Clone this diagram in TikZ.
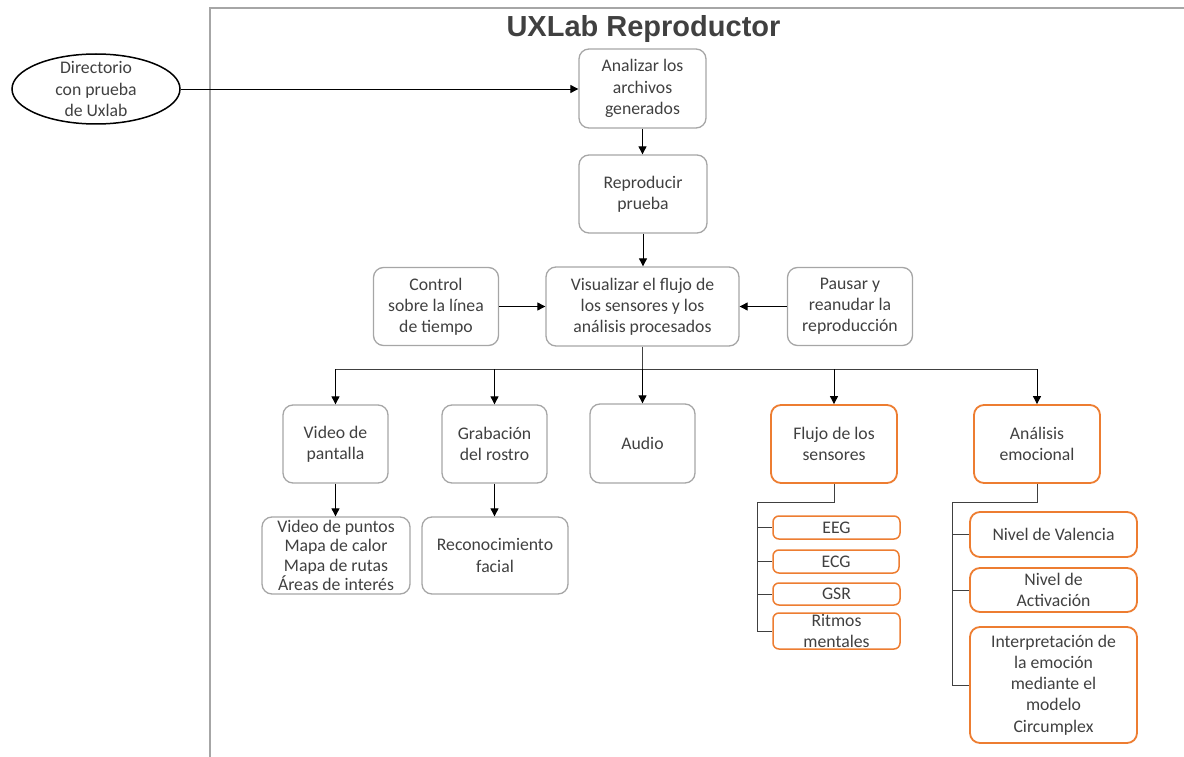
\documentclass[tikz,border=0pt]{standalone}
\usepackage{fontspec}
\setmainfont{Carlito}
\newfontfamily\titlefont{Liberation Sans}
\usetikzlibrary{arrows.meta,shapes.geometric}
\definecolor{boxgray}{HTML}{A6A6A6}
\definecolor{txt}{HTML}{404040}
\definecolor{accent}{HTML}{ED7D31}
\begin{document}
\begin{tikzpicture}[x=1pt,y=-1pt,
  base/.style={inner sep=0pt, align=center, text=txt, font=\fontsize{17.7}{21.2}\selectfont},
  graybox/.style={base, draw=boxgray, line width=1.3pt, rounded corners=10pt},
  orangebox/.style={base, draw=accent, line width=1.8pt, rounded corners=10pt},
  leafbox/.style={base, draw=accent, line width=1.5pt, rounded corners=6pt},
  arr/.style={draw=black, line width=0.9pt, -{Triangle[length=8pt,width=8pt]}},
  link/.style={draw=txt, line width=0.9pt}]
\useasboundingbox (0,0) rectangle (1184,757);

% frame
\draw[boxgray, line width=1.5pt] (1184,8) -- (210,8) -- (210,757);

% title
\node[anchor=base, text=txt, font=\titlefont\bfseries\fontsize{29}{35}\selectfont] (title) at (643.5,37) {UXLab Reproductor};

% input directory
\node[ellipse, draw=black, line width=1.5pt, minimum width=168pt, minimum height=70pt, inner sep=0pt] (dir) at (96,89) {};
\node[base] (dirtxt) at (dir.center) {Directorio\\con prueba\\de Uxlab};

% main flow
\node[graybox, minimum width=127pt, minimum height=79pt] (ana) at (642.5,88.5) {Analizar los\\archivos\\generados};
\node[graybox, minimum width=128pt, minimum height=78pt] (rep) at (643,194) {Reproducir\\prueba};
\node[graybox, minimum width=193pt, minimum height=79pt] (vis) at (642.5,306.5) {Visualizar el flujo de\\los sensores y los\\análisis procesados};
\node[graybox, minimum width=125pt, minimum height=78pt] (ctl) at (436,306.5) {Control\\sobre la línea\\de tiempo};
\node[graybox, minimum width=125pt, minimum height=78pt] (pau) at (850,306.5) {Pausar y\\reanudar la\\reproducción};

% outputs
\node[graybox, minimum width=105pt, minimum height=78pt] (vid) at (335.5,444) {Video de\\pantalla};
\node[graybox, minimum width=105pt, minimum height=78pt] (gra) at (494.5,444) {Grabación\\del rostro};
\node[graybox, minimum width=105pt, minimum height=79pt] (aud) at (642.5,443.5) {Audio};
\node[orangebox, minimum width=126pt, minimum height=78pt] (flu) at (834,444) {Flujo de los\\sensores};
\node[orangebox, minimum width=126pt, minimum height=78pt] (emo) at (1037,444) {Análisis\\emocional};

\node[graybox, minimum width=148pt, minimum height=77pt, font=\fontsize{17.7}{19.5}\selectfont] (lst) at (336,555.5) {Video de puntos\\Mapa de calor\\Mapa de rutas\\Áreas de interés};
\node[graybox, minimum width=146pt, minimum height=77pt] (rec) at (495,555.5) {Reconocimiento\\facial};

% sensor streams
\node[leafbox, minimum width=127pt, minimum height=23pt] (eeg) at (836.5,527.5) {EEG};
\node[leafbox, minimum width=126pt, minimum height=23pt] (ecg) at (836,561.5) {ECG};
\node[leafbox, minimum width=127pt, minimum height=22pt] (gsr) at (836.5,594) {GSR};
\node[leafbox, minimum width=127pt, minimum height=36pt] (rit) at (836.5,631) {};
\node[base] (rittxt) at (rit.center) {Ritmos\\mentales};

% emotional analysis
\node[orangebox, minimum width=167pt, minimum height=45pt] (val) at (1053.5,534.5) {Nivel de Valencia};
\node[orangebox, minimum width=167pt, minimum height=44pt] (act) at (1053.5,590) {Nivel de\\Activación};
\node[orangebox, minimum width=167pt, minimum height=116pt] (int) at (1053.5,685) {Interpretación de\\la emoción\\mediante el\\modelo\\Circumplex};

% connectors
\draw[arr] (dir.east) -- (ana.west |- dir.east);
\draw[arr] (ana.south) -- (ana.south |- rep.north);
\draw[arr] (rep.south) -- (rep.south |- vis.north);
\draw[arr] (ctl.east) -- (vis.west |- ctl.east);
\draw[arr] (pau.west) -- (vis.east |- pau.west);

\coordinate (bus) at (643,369);
\draw[link] (vis.south) -- (vis.south |- bus);
\draw[link] (vid.north |- bus) -- (emo.north |- bus);
\draw[arr] (vid.north |- bus) -- (vid.north);
\draw[arr] (gra.north |- bus) -- (gra.north);
\draw[arr] (aud.north |- bus) -- (aud.north);
\draw[arr] (flu.north |- bus) -- (flu.north);
\draw[arr] (emo.north |- bus) -- (emo.north);

\draw[arr] (vid.south) -- (vid.south |- lst.north);
\draw[arr] (gra.south) -- (gra.south |- rec.north);

% sensor tree
\coordinate (fj) at (757,502);
\draw[link] (flu.south) -- (flu.south |- fj) -- (fj) -- (fj |- rit.west);
\draw[link] (fj |- eeg.west) -- (eeg.west);
\draw[link] (fj |- ecg.west) -- (ecg.west);
\draw[link] (fj |- gsr.west) -- (gsr.west);
\draw[link] (fj |- rit.west) -- (rit.west);

% emotion tree
\coordinate (ej) at (952,502);
\draw[link] (emo.south) -- (emo.south |- ej) -- (ej) -- (ej |- int.west);
\draw[link] (ej |- val.west) -- (val.west);
\draw[link] (ej |- act.west) -- (act.west);
\draw[link] (ej |- int.west) -- (int.west);
\end{tikzpicture}
\end{document}
